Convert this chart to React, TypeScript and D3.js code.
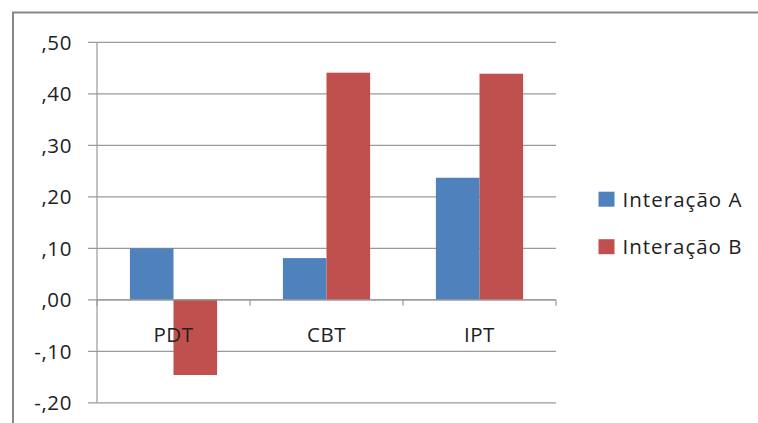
import React, { useEffect, useRef } from "react";
import * as d3 from "d3";

const categories = ["PDT", "CBT", "IPT"];
const seriesNames = ["Interação A", "Interação B"];
const seriesA = [0.1, 0.081, 0.237];
const seriesB = [-0.146, 0.441, 0.439];
const yTicks = [-0.2, -0.1, 0, 0.1, 0.2, 0.3, 0.4, 0.5];
const colors = ["#4F81BD", "#C0504D"];

const W = 758;
const H = 423;

export default function App() {
  const ref = useRef<SVGSVGElement>(null);
  useEffect(() => {
    const svg = d3.select(ref.current);
    svg.selectAll("*").remove();
    const font = "'Open Sans', sans-serif";
    const fs = 20.5;
    const left = 97, right = 556, top = 42.3, bottom = 402.8;

    svg.append("rect").attr("x", 13).attr("y", 12.5).attr("width", W + 20).attr("height", H + 20)
      .attr("fill", "white").attr("stroke", "#888").attr("stroke-width", 2);

    const y = d3.scaleLinear().domain([-0.2, 0.5]).range([bottom, top]);
    const x0 = d3.scaleBand().domain(categories).range([left, right]).paddingInner(0.43).paddingOuter(0.215);
    const x1 = d3.scaleBand().domain(seriesNames).range([0, x0.bandwidth()]);

    const fmt = (v: number) => {
      const s = Math.abs(v).toFixed(2).replace(/^0/, "").replace(".", ",");
      return (v < -1e-9 ? "-" : "") + s;
    };

    // gridlines + ticks
    svg.append("g").selectAll("line").data(yTicks).join("line")
      .attr("x1", left - 9).attr("x2", right).attr("y1", d => y(d)).attr("y2", d => y(d))
      .attr("stroke", "#9a9a9a").attr("stroke-width", 1.2);
    svg.append("g").selectAll("text").data(yTicks).join("text")
      .attr("x", 72).attr("y", d => y(d) + 7.5).attr("text-anchor", "end")
      .attr("font-family", font).attr("font-size", fs).attr("fill", "#222")
      .attr("letter-spacing", 0.6)
      .text(d => fmt(d));

    // bars
    const data = categories.map((c, i) => ({ c, vals: [seriesA[i], seriesB[i]] }));
    const g = svg.append("g");
    data.forEach(d => {
      d.vals.forEach((v, j) => {
        g.append("rect")
          .attr("x", (x0(d.c) as number) + (x1(seriesNames[j]) as number))
          .attr("width", x1.bandwidth())
          .attr("y", y(Math.max(0, v)))
          .attr("height", Math.abs(y(v) - y(0)))
          .attr("fill", colors[j]);
      });
    });

    // y axis line
    svg.append("line").attr("x1", left).attr("x2", left).attr("y1", top).attr("y2", bottom)
      .attr("stroke", "#9a9a9a").attr("stroke-width", 1.2);
    // zero axis line
    svg.append("line").attr("x1", left).attr("x2", right).attr("y1", y(0)).attr("y2", y(0))
      .attr("stroke", "#9a9a9a").attr("stroke-width", 1.2);
    // category ticks
    const step = (right - left) / categories.length;
    const catTicks = d3.range(categories.length + 1).map(i => left + i * step);
    svg.append("g").selectAll("line").data(catTicks).join("line")
      .attr("x1", d => d).attr("x2", d => d).attr("y1", y(0)).attr("y2", y(0) + 6)
      .attr("stroke", "#9a9a9a").attr("stroke-width", 1.2);
    svg.append("g").selectAll("text").data(categories).join("text")
      .attr("x", d => (x0(d) as number) + x0.bandwidth() / 2).attr("y", y(0) + 42)
      .attr("text-anchor", "middle").attr("font-family", font).attr("font-size", fs).attr("fill", "#222")
      .attr("letter-spacing", 0.5)
      .text(d => d);

    // legend
    const lg = svg.append("g");
    seriesNames.forEach((s, i) => {
      const ly = 191.7 + i * 47.5;
      lg.append("rect").attr("x", 598.5).attr("y", ly).attr("width", 16).attr("height", 15).attr("fill", colors[i]);
      lg.append("text").attr("x", 622.5).attr("y", ly + 15).attr("font-family", font).attr("font-size", fs)
        .attr("fill", "#222").attr("textLength", 119).attr("lengthAdjust", "spacing").text(s);
    });
  }, []);
  return (
    <svg ref={ref} width={W} height={H} style={{ position: "absolute", left: 0, top: 0, background: "white" }} />
  );
}
